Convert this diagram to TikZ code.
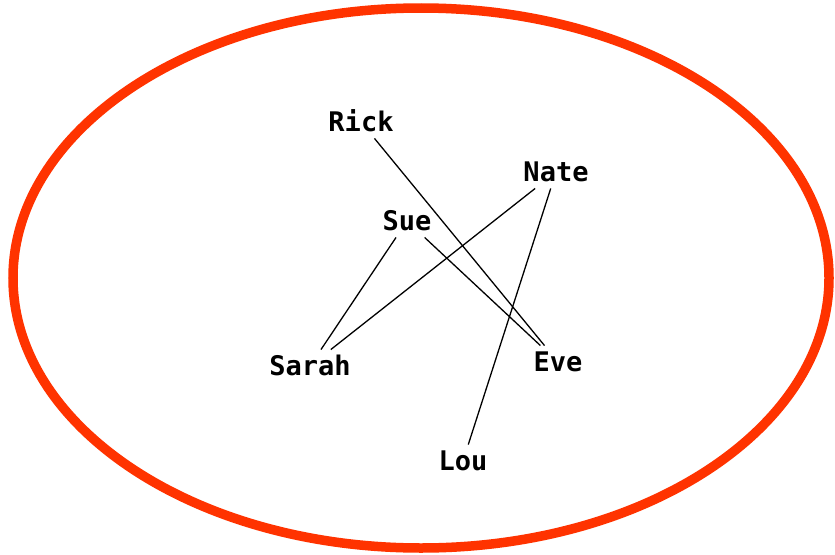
\documentclass[tikz,border=0pt]{standalone}
\usepackage{fontspec}
\newfontfamily\plotfont{DejaVu Sans Mono}
\definecolor{ringred}{RGB}{255,51,0}
\begin{document}
\begin{tikzpicture}[x=1pt,y=1pt,
  person/.style={font=\plotfont\bfseries\fontsize{27}{27}\selectfont,
    text height=19.5pt, text depth=0pt, inner xsep=4pt, inner ysep=6.5pt},
  tie/.style={line width=1.3pt, black}]
\useasboundingbox (0,0) rectangle (835,-554);
\fill[white] (0,0) rectangle (835,-554);
\draw[ringred, line width=9.5pt] (421,-278) ellipse [x radius=408, y radius=270];
\node[person] (rick)  at (361,-122) {Rick};
\node[person] (nate)  at (556,-172) {Nate};
\node[person] (sue)   at (407,-221) {Sue};
\node[person] (sarah) at (310,-366) {Sarah};
\node[person] (eve)   at (558,-362) {Eve};
\node[person] (lou)   at (463,-461) {Lou};
\draw[tie] (rick) -- (eve);
\draw[tie] (sue) -- (eve);
\draw[tie] (sue) -- (sarah);
\draw[tie] (nate) -- (sarah);
\draw[tie] (nate) -- (lou);
\end{tikzpicture}
\end{document}
